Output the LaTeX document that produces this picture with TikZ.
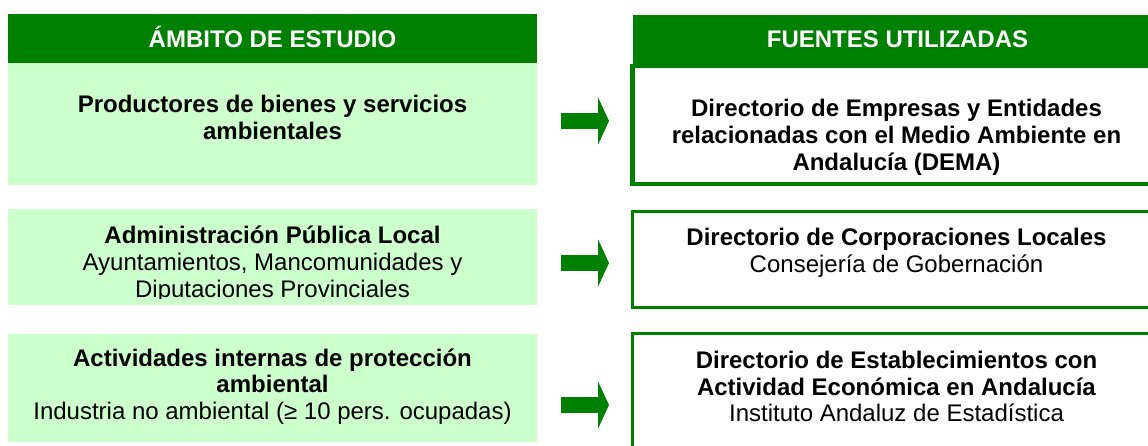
\documentclass[tikz,border=0pt]{standalone}
\usepackage{fontspec}
\setmainfont{Liberation Sans}
\usetikzlibrary{arrows.meta,positioning}
\definecolor{darkgreen}{RGB}{0,128,0}
\definecolor{palegreen}{RGB}{204,255,204}

\begin{document}
\begin{tikzpicture}
    [x=1pt,y=-1pt,
     every node/.style={font=\fontsize{24}{26.8}\selectfont},
     header/.style={rectangle,fill=darkgreen,text=white,inner sep=0pt,minimum width=529pt,minimum height=49pt,text height=17pt,text depth=0pt},
     ambit/.style={rectangle,fill=palegreen,inner sep=0pt,minimum width=529pt},
     source/.style={rectangle,draw=darkgreen,line width=3pt,inner sep=0pt,outer sep=0pt,minimum width=529pt},
     boxtext/.style={align=center,inner sep=0pt},
     blockarrow/.style={line width=16pt,darkgreen,-{Triangle[length=11pt,width=47pt]},shorten <=24pt,shorten >=23.5pt}]
    \useasboundingbox (0,0) rectangle (1148,445);
    \clip (0,0) rectangle (1148,445);

    \node[header] (hdr1) at (272.5,38.5) {\textbf{ÁMBITO DE ESTUDIO}};
    \node[header] (hdr2) at (897.5,39) {\textbf{FUENTES UTILIZADAS}};

    \node[ambit,minimum height=122pt] (amb1) at (272.5,124) {};
    \node[ambit,minimum height=96pt] (amb2) at (272.5,257) {};
    \node[ambit,minimum height=108pt] (amb3) at (272.5,388) {};

    \node[source,line width=4.5pt,minimum height=118pt] (src1) at (897,125) {};
    \node[source,minimum height=96pt] (src2) at (897,259) {};
    \node[source,minimum height=137pt] (src3) at (897,401.5) {};

    \node[boxtext] (amb1txt) at (272.5,117.5)
      {\textbf{Productores de bienes y servicios}\\\textbf{ambientales}};
    \begin{scope}
      \clip (8,209) rectangle (537,298);
      \node[boxtext] (amb2txt) at (272.5,264)
        {\textbf{Administración Pública Local}\\Ayuntamientos, Mancomunidades y\\Diputaciones Provinciales};
    \end{scope}
    \node[boxtext] (amb3txt) at (272.5,386.5)
      {\textbf{Actividades internas de protección}\\\textbf{ambiental}\\Industria no ambiental (≥ 10 pers. ocupadas)};

    \node[boxtext] (src1txt) at (896.5,137.5)
      {\textbf{Directorio de Empresas y Entidades}\\\textbf{relacionadas con el Medio Ambiente en}\\\textbf{Andalucía (DEMA)}};
    \node[boxtext] (src2txt) at (896.5,253)
      {\textbf{Directorio de Corporaciones Locales}\\Consejería de Gobernación};
    \node[boxtext] (src3txt) at (896.5,386.5)
      {\textbf{Directorio de Establecimientos con}\\\textbf{Actividad Económica en Andalucía}\\Instituto Andaluz de Estadística};

    \draw[blockarrow] ([yshift=3pt]amb1.east) -- ([yshift=3pt]amb1.east -| src1.west);
    \draw[blockarrow] ([yshift=-6pt]amb2.east) -- ([yshift=-6pt]amb2.east -| src2.west);
    \draw[blockarrow] ([yshift=-17pt]amb3.east) -- ([yshift=-17pt]amb3.east -| src3.west);
\end{tikzpicture}
\end{document}
